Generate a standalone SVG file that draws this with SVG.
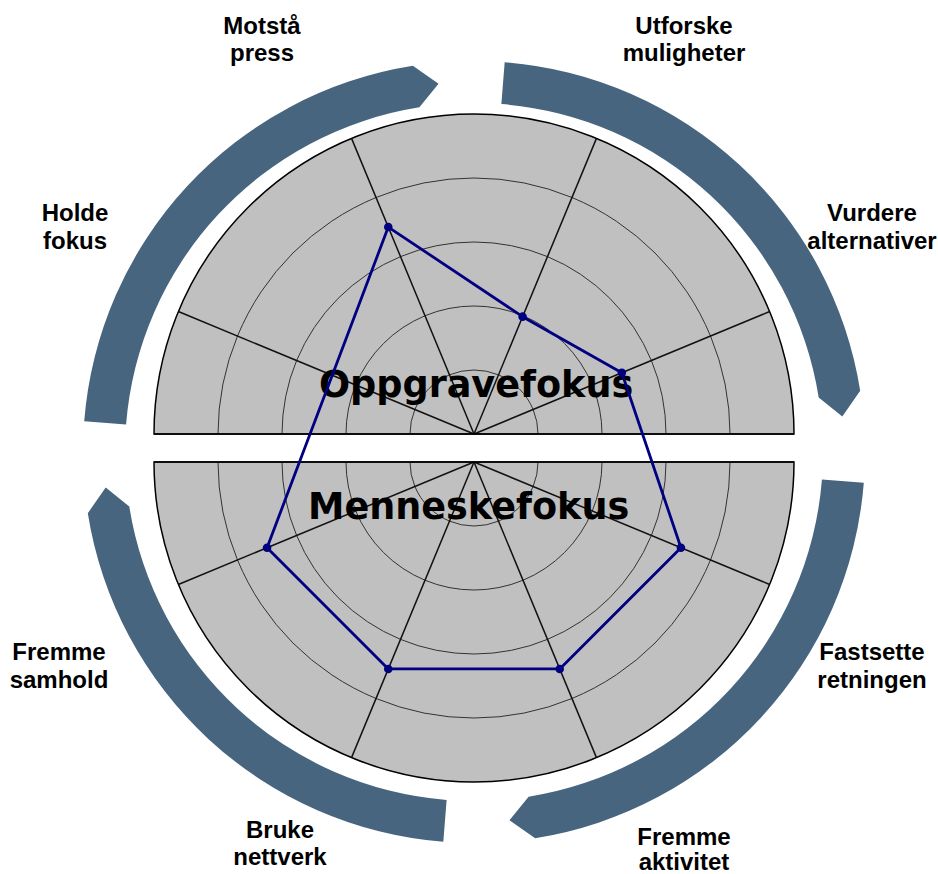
<svg xmlns="http://www.w3.org/2000/svg" xmlns:xlink="http://www.w3.org/1999/xlink" width="938" height="874" viewBox="0 0 938 874">
  <style>
    .half { fill: #c0c0c0; stroke: #000; stroke-width: 1.5; }
    .ring { fill: none; stroke: #333; stroke-width: 1; }
    .spoke { stroke: #111; stroke-width: 1.5; }
    .band { fill: #486580; }
    .lbl { font-family: "Liberation Sans", Arial, sans-serif; font-weight: bold; font-size: 24px; fill: #000; text-anchor: middle; }
    .big { font-family: "DejaVu Sans", Verdana, sans-serif; font-weight: bold; font-size: 36.6px; fill: #000; }
    .poly { fill: none; stroke: #000080; stroke-width: 2.8; stroke-linejoin: round; }
    .dot { fill: #000080; }
  </style>
  <defs>
    <path id="bandShape" d="M 389.80 30.68 A 391 391 0 0 1 61.17 386.19 L 35.46 368.30 L 54.59 344.70 A 349 349 0 0 0 347.93 27.38 Z"/>
  </defs>
  <rect width="938" height="874" fill="#fff"/>

  <g id="bands">
    <use id="band-upper-left" class="band" href="#bandShape" xlink:href="#bandShape" transform="translate(474 452) rotate(180)"/>
    <use id="band-upper-right" class="band" href="#bandShape" xlink:href="#bandShape" transform="translate(474 452) rotate(270)"/>
    <use id="band-lower-right" class="band" href="#bandShape" xlink:href="#bandShape" transform="translate(474 452)"/>
    <use id="band-lower-left" class="band" href="#bandShape" xlink:href="#bandShape" transform="translate(474 452) rotate(90)"/>
  </g>

  <g id="upper-half">
    <path class="half" d="M 154 434 A 320 320 0 0 1 794 434 Z"/>
    <path class="ring" d="M 218 434 A 256 256 0 0 1 730 434 M 282 434 A 192 192 0 0 1 666 434 M 346 434 A 128 128 0 0 1 602 434 M 410 434 A 64 64 0 0 1 538 434"/>
    <line class="spoke" x1="474" y1="434" x2="769.64" y2="311.54"/>
    <line class="spoke" x1="474" y1="434" x2="596.46" y2="138.36"/>
    <line class="spoke" x1="474" y1="434" x2="351.54" y2="138.36"/>
    <line class="spoke" x1="474" y1="434" x2="178.36" y2="311.54"/>
    <line x1="154" y1="434" x2="794" y2="434" stroke="#000" stroke-width="1.5"/>
  </g>

  <g id="lower-half">
    <path class="half" d="M 154 462 A 320 320 0 0 0 794 462 Z"/>
    <path class="ring" d="M 218 462 A 256 256 0 0 0 730 462 M 282 462 A 192 192 0 0 0 666 462 M 346 462 A 128 128 0 0 0 602 462 M 410 462 A 64 64 0 0 0 538 462"/>
    <line class="spoke" x1="474" y1="462" x2="769.64" y2="584.46"/>
    <line class="spoke" x1="474" y1="462" x2="596.46" y2="757.64"/>
    <line class="spoke" x1="474" y1="462" x2="351.54" y2="757.64"/>
    <line class="spoke" x1="474" y1="462" x2="178.36" y2="584.46"/>
    <line x1="154" y1="462" x2="794" y2="462" stroke="#000" stroke-width="1.5"/>
  </g>

  <g id="half-titles">
    <text id="title-oppgave" class="big" x="319" y="397">Oppgravefokus</text>
    <text id="title-menneske" class="big" x="308" y="519">Menneskefokus</text>
  </g>

  <g id="connectors">
    <polygon class="poly" points="388.28,227.05 522.6,316.67 621.82,372.77 680.95,547.72 559.72,668.95 388.28,668.95 267.05,547.72"/>
  </g>
  <g id="data-points">
    <circle class="dot" cx="388.28" cy="227.05" r="4.3"/>
    <circle class="dot" cx="522.6" cy="316.67" r="4.3"/>
    <circle class="dot" cx="621.82" cy="372.77" r="4.3"/>
    <circle class="dot" cx="680.95" cy="547.72" r="4.3"/>
    <circle class="dot" cx="559.72" cy="668.95" r="4.3"/>
    <circle class="dot" cx="388.28" cy="668.95" r="4.3"/>
    <circle class="dot" cx="267.05" cy="547.72" r="4.3"/>
  </g>

  <g id="label-motsta"><text class="lbl" x="262" y="34">Motstå</text><text class="lbl" x="262" y="61">press</text></g>
  <g id="label-utforske"><text class="lbl" x="684" y="34">Utforske</text><text class="lbl" x="684" y="61">muligheter</text></g>
  <g id="label-vurdere"><text class="lbl" x="872" y="221">Vurdere</text><text class="lbl" x="872" y="249">alternativer</text></g>
  <g id="label-holde"><text class="lbl" x="75" y="221">Holde</text><text class="lbl" x="75" y="249">fokus</text></g>
  <g id="label-fremme-samhold"><text class="lbl" x="59" y="660">Fremme</text><text class="lbl" x="59" y="688">samhold</text></g>
  <g id="label-fastsette"><text class="lbl" x="872" y="660">Fastsette</text><text class="lbl" x="872" y="688">retningen</text></g>
  <g id="label-bruke"><text class="lbl" x="280" y="838">Bruke</text><text class="lbl" x="280" y="865">nettverk</text></g>
  <g id="label-fremme-aktivitet"><text class="lbl" x="684" y="845">Fremme</text><text class="lbl" x="684" y="870">aktivitet</text></g>
</svg>
